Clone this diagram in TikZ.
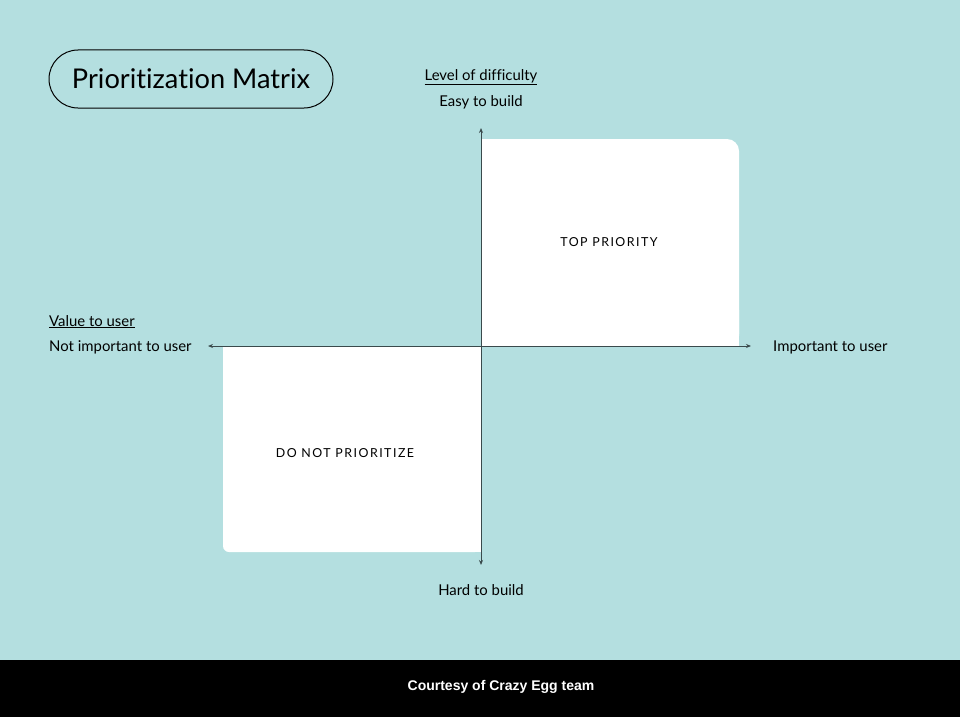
\documentclass[tikz,border=0pt]{standalone}
\usepackage{fontspec}
\setmainfont[Ligatures={NoCommon}]{Lato}
\newfontfamily\footfont{Liberation Sans}
\newfontfamily\capsfont[LetterSpace=12]{Lato}
\usetikzlibrary{arrows.meta}
\definecolor{bgteal}{HTML}{B4DFE0}
\definecolor{axisgray}{HTML}{3A4A4C}
\begin{document}
\begin{tikzpicture}[x=1pt,y=-1pt,
  lbl/.style={font=\fontsize{14.9}{17}\selectfont, text=black, inner sep=0pt},
  quad/.style={fill=white, draw=none},
  quadtext/.style={font=\capsfont\fontsize{12.4}{14}\selectfont, text=black, inner sep=0pt},
  axis/.style={draw=axisgray, line width=0.9pt, -{Stealth[length=5pt,width=4pt]}}]
  % canvas and footer band
  \useasboundingbox (0,0) rectangle (960,717);
  \fill[bgteal] (0,0) rectangle (960,660);
  \fill[black] (0,660) rectangle (960,717);

  % title pill
  \draw[line width=1pt, rounded corners=29pt] (49,50) rectangle (333,108);
  \node[font=\fontsize{27.2}{30}\selectfont, inner sep=0pt] (title) at (191,79) {Prioritization Matrix};

  % quadrants
  \fill[quad, rounded corners=12pt] (482,139) -- (739,139) -- (739,346) -- (482,346) [sharp corners] -- cycle;
  \fill[white] (482,139) rectangle (494,160);
  \fill[white] (482,330) rectangle (739,346);
  \fill[white, rounded corners=10pt] (700,300) rectangle (739,346);
  \fill[quad, rounded corners=6pt] (223,346) rectangle (481,552);
  \fill[white] (223,346) rectangle (481,360);
  \fill[white] (460,346) rectangle (481,552);

  \node[quadtext] (top) at (609,242) {TOP PRIORITY};
  \node[quadtext] (dnp) at (345,453) {DO NOT PRIORITIZE};

  % axis labels
  \node[lbl, anchor=base] (lvl) at (481,80) {\underline{Level of difficulty}};
  \node[lbl, anchor=base] (easy) at (481,106) {Easy to build};
  \node[lbl, anchor=base] (hard) at (481,595) {Hard to build};
  \node[lbl, anchor=base west] (val) at (49,326) {\underline{Value to user}};
  \node[lbl, anchor=base west] (notimp) at (49,351) {Not important to user};
  \node[lbl, anchor=base west] (imp) at (773,351) {Important to user};

  % axes
  \coordinate (o) at (481,346);
  \coordinate (ytop) at (481,128);
  \coordinate (ybot) at (481,565);
  \coordinate (xl) at (208,346);
  \coordinate (xr) at (751,346);
  \draw[axis] (o) -- (ytop);
  \draw[axis] (o) -- (ybot);
  \draw[axis] (o) -- (xl);
  \draw[axis] (o) -- (xr);

  % footer credit
  \node[font=\footfont\bfseries\fontsize{14}{16}\selectfont, text=white, inner sep=0pt] (credit) at (501,687) {Courtesy of Crazy Egg team};
\end{tikzpicture}
\end{document}
